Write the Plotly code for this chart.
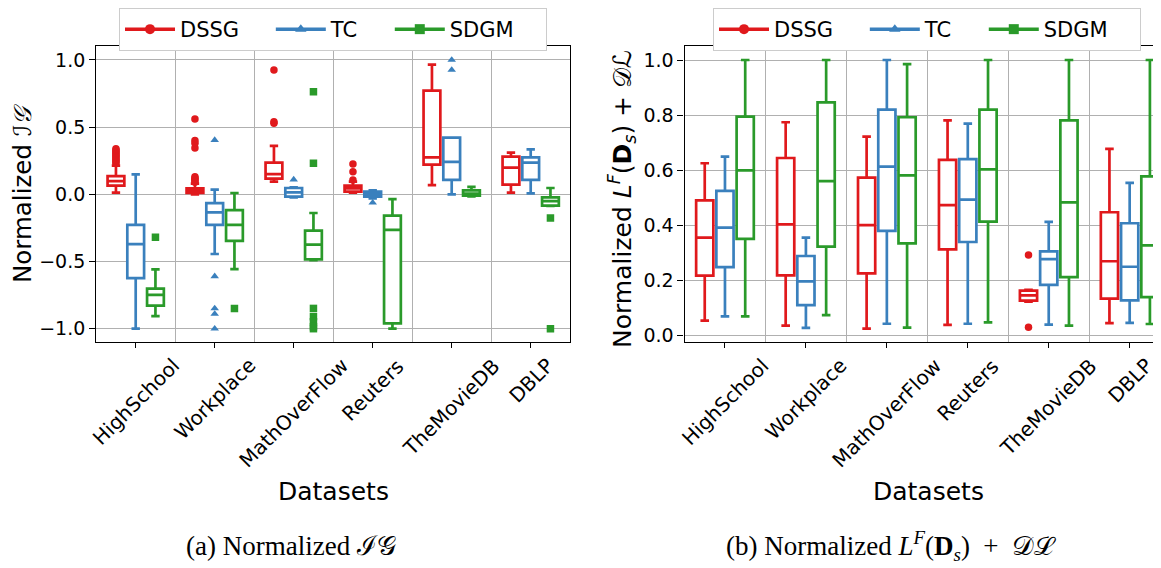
import plotly.graph_objects as go

# the page body adds an 8 px offset; the figure is sized so it fills the window
OFF = 8
W, H = 1161 - OFF, 568 - OFF

datasets = ["HighSchool", "Workplace", "MathOverFlow", "Reuters", "TheMovieDB", "DBLP"]
methods = ["DSSG", "TC", "SDGM"]
colors = {"DSSG": "#e0191c", "TC": "#3a80bd", "SDGM": "#2a9a2a"}
symbols = {"DSSG": "circle", "TC": "triangle-up", "SDGM": "square"}

# ---- (a) Normalized IG : box statistics per dataset ----
ig_q1 = {
    "DSSG": [0.065, 0.010, 0.117, 0.020, 0.221, 0.072],
    "TC":   [-0.623, -0.228, -0.017, -0.017, 0.107, 0.107],
    "SDGM": [-0.829, -0.347, -0.484, -0.960, -0.010, -0.084],
}
ig_med = {
    "DSSG": [0.099, 0.025, 0.150, 0.045, 0.275, 0.199],
    "TC":   [-0.370, -0.134, 0.015, 0.000, 0.241, 0.236],
    "SDGM": [-0.749, -0.228, -0.375, -0.265, 0.005, -0.050],
}
ig_q3 = {
    "DSSG": [0.136, 0.045, 0.236, 0.065, 0.772, 0.280],
    "TC":   [-0.228, -0.065, 0.047, 0.020, 0.422, 0.275],
    "SDGM": [-0.702, -0.117, -0.270, -0.159, 0.030, -0.022],
}
ig_lo = {
    "DSSG": [0.012, 0.000, 0.094, 0.012, 0.069, 0.012],
    "TC":   [-1.000, -0.444, -0.022, -0.030, 0.000, 0.007],
    "SDGM": [-0.906, -0.556, -0.490, -1.000, -0.015, -0.086],
}
ig_hi = {
    "DSSG": [0.213, 0.080, 0.360, 0.094, 0.965, 0.310],
    "TC":   [0.149, 0.035, 0.052, 0.030, 0.422, 0.335],
    "SDGM": [-0.558, 0.010, -0.139, -0.035, 0.055, 0.047],
}
# outliers: (dataset index, value)
ig_out = {
    "DSSG": [(0, 0.23), (0, 0.24), (0, 0.25), (0, 0.26), (0, 0.27), (0, 0.28), (0, 0.29),
             (0, 0.30), (0, 0.31), (0, 0.32), (0, 0.33), (0, 0.34),
             (1, 0.09), (1, 0.10), (1, 0.11), (1, 0.12), (1, 0.13), (1, 0.345), (1, 0.38),
             (1, 0.40), (1, 0.56),
             (2, 0.529), (2, 0.541), (2, 0.926),
             (3, 0.107), (3, 0.169), (3, 0.226)],
    "TC":   [(1, 0.404), (1, -0.61), (1, -0.849), (1, -0.89), (1, -1.0),
             (2, 0.11), (3, -0.062), (4, 0.926), (4, 1.0)],
    "SDGM": [(0, -0.32), (1, -0.849),
             (2, 0.764), (2, 0.231), (2, -0.849), (2, -0.91), (2, -0.948), (2, -0.985), (2, -1.0),
             (5, -0.176), (5, -1.0)],
}

# ---- (b) Normalized L^F(D_s) + DL : box statistics ----
dl_q1 = {
    "DSSG": [0.217, 0.218, 0.225, 0.312, 0.126, 0.133],
    "TC":   [0.248, 0.110, 0.379, 0.339, 0.183, 0.127],
    "SDGM": [0.350, 0.322, 0.334, 0.413, 0.211, 0.139],
}
dl_med = {
    "DSSG": [0.355, 0.403, 0.400, 0.473, 0.145, 0.269],
    "TC":   [0.391, 0.196, 0.613, 0.493, 0.277, 0.249],
    "SDGM": [0.599, 0.560, 0.581, 0.603, 0.483, 0.327],
}
dl_q3 = {
    "DSSG": [0.490, 0.644, 0.573, 0.637, 0.162, 0.447],
    "TC":   [0.525, 0.288, 0.820, 0.640, 0.305, 0.407],
    "SDGM": [0.794, 0.846, 0.792, 0.820, 0.781, 0.577],
}
dl_lo = {
    "DSSG": [0.053, 0.035, 0.024, 0.038, 0.122, 0.044],
    "TC":   [0.069, 0.027, 0.042, 0.042, 0.039, 0.045],
    "SDGM": [0.069, 0.073, 0.028, 0.047, 0.035, 0.041],
}
dl_hi = {
    "DSSG": [0.625, 0.774, 0.722, 0.781, 0.165, 0.677],
    "TC":   [0.649, 0.355, 1.000, 0.769, 0.412, 0.554],
    "SDGM": [1.000, 1.000, 0.985, 1.000, 1.000, 1.000],
}
dl_out = {
    "DSSG": [(4, 0.292), (4, 0.029)],
    "TC": [],
    "SDGM": [],
}

offsets = {"DSSG": -0.25, "TC": 0.0, "SDGM": 0.25}
BOXW = 0.2125
NB = "\u00a0"


def px(x):
    return (x - OFF) / W


def py(y):
    return 1 - (y - OFF) / H


fig = go.Figure()

panels = [
    ("x", "y", ig_q1, ig_med, ig_q3, ig_lo, ig_hi, ig_out, "legend"),
    ("x2", "y2", dl_q1, dl_med, dl_q3, dl_lo, dl_hi, dl_out, "legend2"),
]

for xa, ya, q1, med, q3, lo, hi, out, leg in panels:
    for m in methods:
        xs = [i + offsets[m] for i in range(len(datasets))]
        fig.add_trace(go.Box(
            x=xs, q1=q1[m], median=med[m], q3=q3[m], lowerfence=lo[m], upperfence=hi[m],
            width=BOXW, whiskerwidth=0.5, boxpoints=False,
            line=dict(color=colors[m], width=2.7), fillcolor="white",
            xaxis=xa, yaxis=ya, showlegend=False, hoverinfo="skip",
        ))
        if out[m]:
            fig.add_trace(go.Scatter(
                x=[d + offsets[m] for d, _ in out[m]], y=[v for _, v in out[m]],
                mode="markers", marker=dict(color=colors[m], symbol=symbols[m], size=7.5),
                xaxis=xa, yaxis=ya, showlegend=False, hoverinfo="skip",
            ))
    for m in methods:
        fig.add_trace(go.Scatter(
            x=[None], y=[None], mode="lines+markers", name=m + NB * 4,
            line=dict(color=colors[m], width=3.5),
            marker=dict(color=colors[m], symbol=symbols[m], size=10),
            xaxis=xa, yaxis=ya, legend=leg, showlegend=True,
        ))

font_tick = dict(family="DejaVu Sans", size=19, color="black")
font_xlab = dict(family="DejaVu Sans", size=20, color="black")
grid = "#b0b0b0"

common_x = dict(
    showline=True, mirror=True, linecolor="black", linewidth=1.2,
    tickmode="array", tickvals=list(range(6)), showticklabels=False,
    ticks="outside", ticklen=5, tickcolor="black", showgrid=False, zeroline=False,
    automargin=False,
    minor=dict(tickmode="array", tickvals=[0.5, 1.5, 2.5, 3.5, 4.5], showgrid=True,
               gridcolor=grid, gridwidth=1, ticks=""),
)
common_y = dict(
    showline=True, mirror=True, linecolor="black", linewidth=1.2,
    ticks="outside", ticklen=6, tickcolor="black", tickfont=font_tick,
    showgrid=True, gridcolor=grid, gridwidth=1, zeroline=False, tickformat=".1f",
    automargin=False,
)

y_dom = [py(342), py(46)]
leg_common = dict(orientation="h", yanchor="top", itemwidth=50,
                  font=dict(family="DejaVu Sans", size=21, color="black"),
                  bordercolor="#cccccc", borderwidth=1, bgcolor="white")
fig.update_layout(
    width=W, height=H, margin=dict(l=0, r=0, t=0, b=0, pad=0, autoexpand=False),
    paper_bgcolor="white", plot_bgcolor="white",
    xaxis=dict(domain=[px(96.2), px(570.2)], range=[-0.5, 5.5], anchor="y", **common_x),
    yaxis=dict(domain=y_dom, range=[-1.099, 1.104], anchor="x",
               tickvals=[-1, -0.5, 0, 0.5, 1], **common_y),
    xaxis2=dict(domain=[px(684.5), 1.0], range=[-0.5, 5.387], anchor="y2", **common_x),
    yaxis2=dict(domain=y_dom, range=[-0.0243, 1.0509], anchor="x2",
                tickvals=[0, 0.2, 0.4, 0.6, 0.8, 1.0], **common_y),
    legend=dict(x=px(333), xanchor="center", y=1.0, **leg_common),
    legend2=dict(x=px(927), xanchor="center", y=1.0, **leg_common),
    showlegend=True,
)

ann = []
# rotated category labels
for xa, ya in (("x", "y"), ("x2", "y2")):
    for i, d in enumerate(datasets):
        ann.append(dict(x=i, xref=xa, y=py(351), yref="paper", text=d, showarrow=False,
                        textangle=-45, xanchor="center", yanchor="top",
                        font=font_xlab))
# axis titles
lab_font = dict(family="DejaVu Sans", size=25, color="black")
ann.append(dict(x=px(333), y=py(491), xref="paper", yref="paper", text="Datasets",
                showarrow=False, font=lab_font, xanchor="center", yanchor="middle"))
ann.append(dict(x=px(928), y=py(491), xref="paper", yref="paper", text="Datasets",
                showarrow=False, font=lab_font, xanchor="center", yanchor="middle"))
ann.append(dict(x=px(23), y=py(194), xref="paper", yref="paper",
                text="Normalized <i>\u2110\U0001D4A2</i>", borderpad=0,
                showarrow=False, font=dict(family="DejaVu Sans", size=24.5, color="black"),
                textangle=-90, xanchor="center", yanchor="middle"))
ann.append(dict(x=px(622), y=py(199), xref="paper", yref="paper",
                text="Normalized <i>L</i><sup><i>F</i></sup>(<b>D</b><sub><i>s</i></sub>) + \U0001D49F\u2112",
                showarrow=False, font=lab_font, textangle=-90,
                xanchor="center", yanchor="middle"))
# captions
cap_font = dict(family="Liberation Serif", size=27, color="black")
ann.append(dict(x=px(291), y=py(546), xref="paper", yref="paper",
                text="(a) Normalized \u2110\U0001D4A2",
                showarrow=False, font=cap_font, xanchor="center", yanchor="middle"))
ann.append(dict(x=px(891), y=py(546), xref="paper", yref="paper",
                text="(b) Normalized <i>L</i><sup><i>F</i></sup>(<b>D</b><sub><i>s</i></sub>)\u2002+\u2002\U0001D49F\u2112",
                showarrow=False, font=cap_font, xanchor="center", yanchor="middle"))
fig.update_layout(annotations=ann)

fig.write_html("out.html")
